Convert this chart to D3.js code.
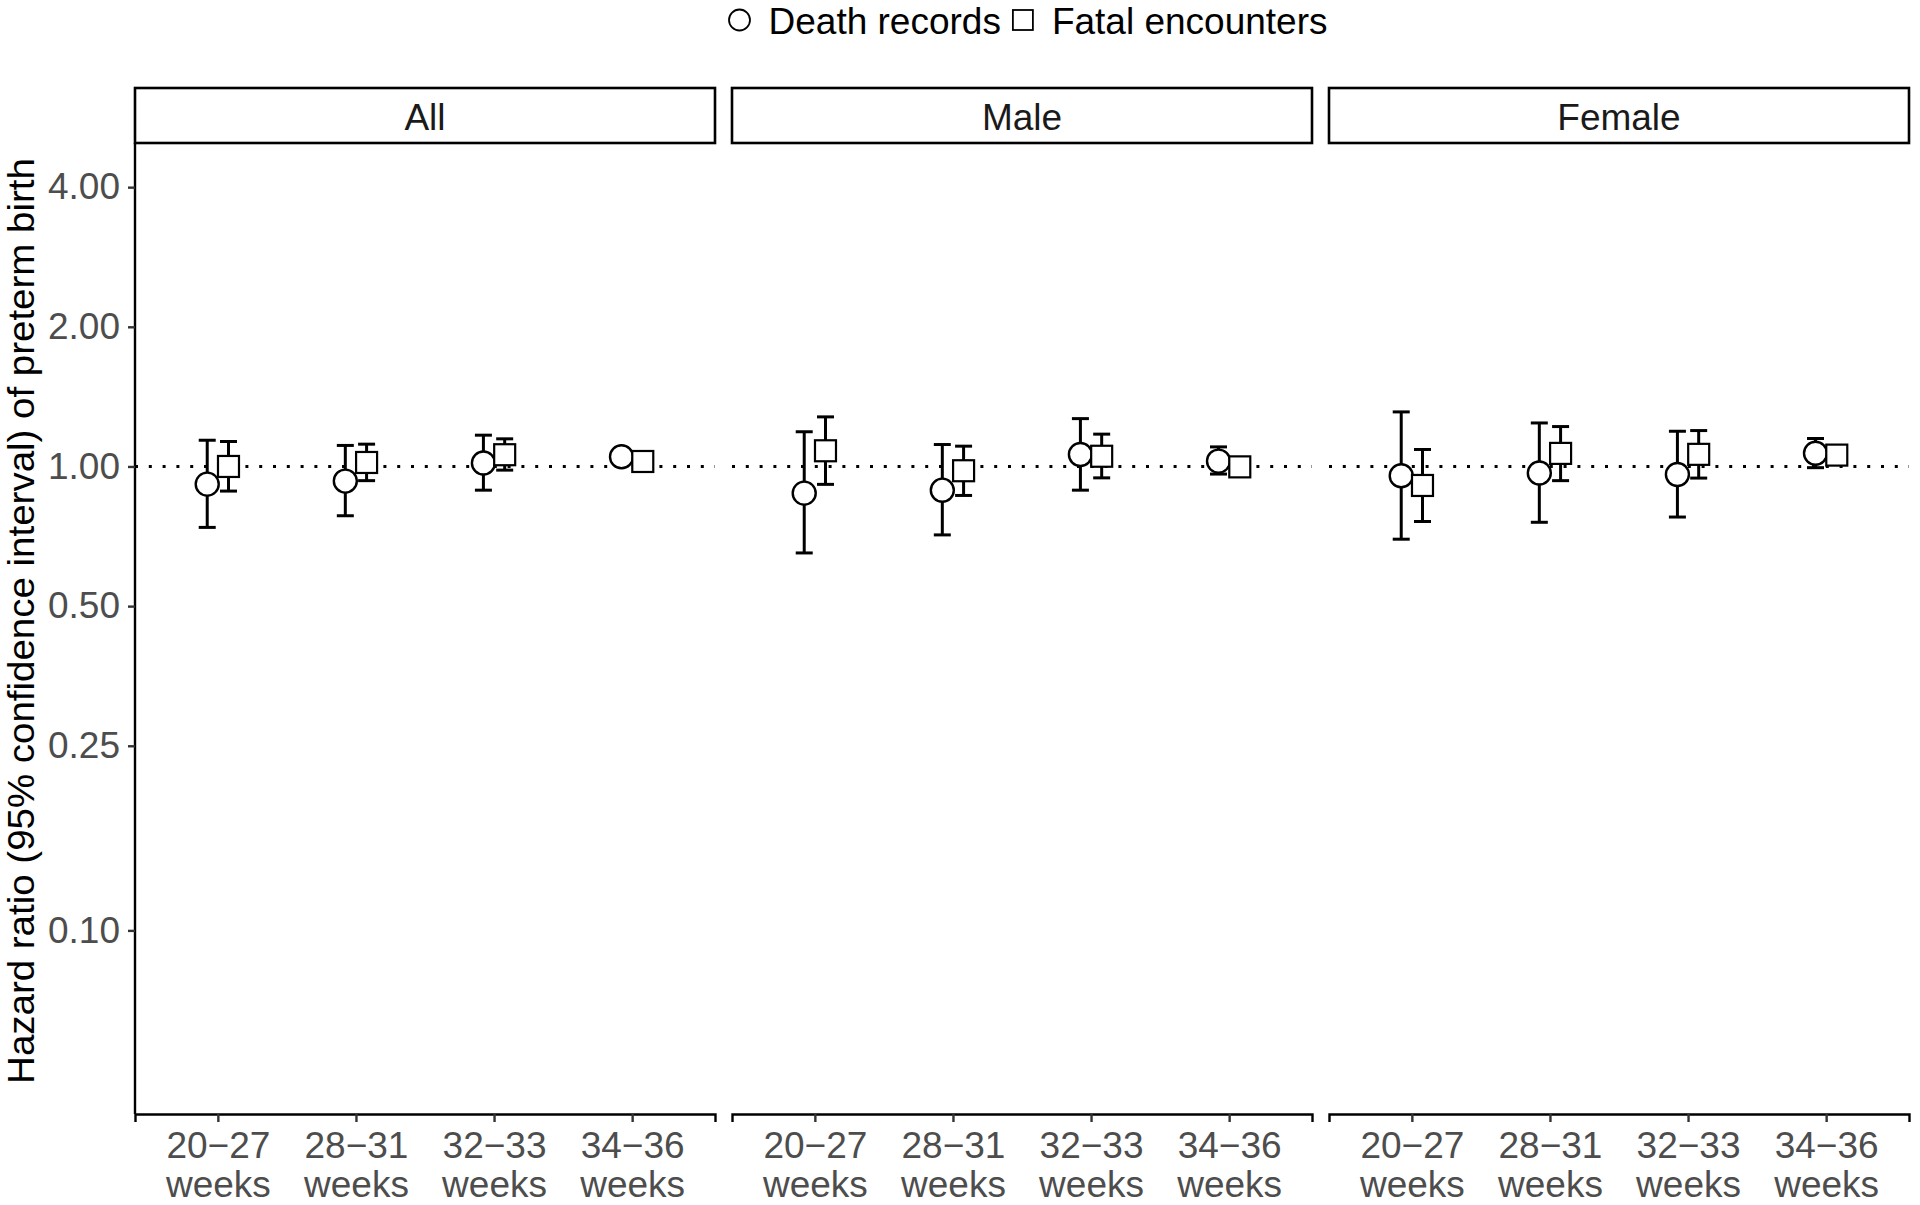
<!DOCTYPE html>
<html>
<head>
<meta charset="utf-8">
<script src="https://cdn.jsdelivr.net/npm/d3@7"></script>
<style>
  body { margin: 0; background: #fff; }
  text { font-family: "Liberation Sans", Arial, sans-serif; }
</style>
</head>
<body>
<div id="chart"></div>
<script>
// facets, categories, y ticks
var panels = ["All", "Male", "Female"];
var categories = ["20\u221227 weeks", "28\u221231 weeks", "32\u221233 weeks", "34\u221236 weeks"];
var yTicks = [0.10, 0.25, 0.50, 1.00, 2.00, 4.00];
var seriesNames = ["Death records", "Fatal encounters"];

// hazard ratios and 95% CI, one row per panel (All, Male, Female)
var deathHR = [[0.916, 0.930, 1.017, 1.049], [0.876, 0.889, 1.061, 1.027], [0.955, 0.968, 0.961, 1.068]];
var deathLo = [[0.739, 0.783, 0.889, 1.020], [0.651, 0.712, 0.889, 0.963], [0.697, 0.758, 0.778, 0.994]];
var deathHi = [[1.139, 1.110, 1.168, 1.080], [1.188, 1.115, 1.268, 1.102], [1.311, 1.241, 1.191, 1.149]];

var fatalHR = [[1.000, 1.020, 1.060, 1.025], [1.081, 0.979, 1.052, 0.998], [0.910, 1.067, 1.062, 1.058]];
var fatalLo = [[0.885, 0.932, 0.982, 0.995], [0.915, 0.866, 0.945, 0.970], [0.761, 0.932, 0.944, 1.020]];
var fatalHi = [[1.132, 1.117, 1.147, 1.055], [1.279, 1.106, 1.174, 1.030], [1.088, 1.219, 1.195, 1.100]];

var svgWidth = 1920;
var svgHeight = 1205;
var fs = 37;

var plotTop = 143, plotBottom = 1114;
var stripTop = 88;

var svg = d3.select("#chart")
  .append("svg")
  .attr("width", svgWidth)
  .attr("height", svgHeight);

// panels side by side
var panelScale = d3.scaleBand()
  .domain(panels)
  .range([135, 1909])
  .paddingInner(17 / 597);
var pw = panelScale.bandwidth();

var x = d3.scalePoint()
  .domain(categories)
  .range([0, pw])
  .padding(0.6);
var dodge = x.step() * 0.077;

var y = d3.scaleLog()
  .domain([0.0402, 4.98])
  .range([plotBottom, plotTop]);

// build rows
var rows = [];
panels.forEach(function(p, pi) {
  categories.forEach(function(c, ci) {
    rows.push({panel: p, cat: c, series: 0, hr: deathHR[pi][ci], lo: deathLo[pi][ci], hi: deathHi[pi][ci]});
    rows.push({panel: p, cat: c, series: 1, hr: fatalHR[pi][ci], lo: fatalLo[pi][ci], hi: fatalHi[pi][ci]});
  });
});

panels.forEach(function(p, pi) {
  var g = svg.append("g").attr("transform", `translate(${panelScale(p)},0)`);

  // strip
  g.append("rect")
    .attr("x", 0).attr("y", stripTop)
    .attr("width", pw).attr("height", plotTop - stripTop)
    .attr("fill", "#fff").attr("stroke", "#000").attr("stroke-width", 2.6);
  g.append("text")
    .attr("x", pw / 2).attr("y", (stripTop + plotTop) / 2 + 1)
    .attr("dy", "0.36em")
    .attr("text-anchor", "middle")
    .attr("font-size", fs)
    .attr("fill", "#1a1a1a")
    .text(p);

  // reference line at 1
  g.append("line")
    .attr("x1", 0).attr("x2", pw)
    .attr("y1", y(1)).attr("y2", y(1))
    .attr("stroke", "#000").attr("stroke-width", 3)
    .attr("stroke-dasharray", "3,10.8");

  // x axis
  var xAxis = g.append("g")
    .attr("transform", `translate(0,${plotBottom})`)
    .call(d3.axisBottom(x).tickSize(8).tickFormat(""));
  xAxis.select(".domain").attr("stroke", "#000").attr("stroke-width", 2.4);
  xAxis.selectAll(".tick line").attr("stroke", "#333").attr("stroke-width", 2.4);
  xAxis.selectAll(".tick").each(function(d) {
    var parts = d.split(" ");
    var t = d3.select(this).append("text")
      .attr("text-anchor", "middle")
      .attr("font-size", fs)
      .attr("fill", "#4d4d4d");
    t.append("tspan").attr("x", 0).attr("y", 44).text(parts[0]);
    t.append("tspan").attr("x", 0).attr("y", 83).text(parts[1]);
  });

  var pr = rows.filter(function(r) { return r.panel === p; });
  var px = function(r) { return x(r.cat) + (r.series === 0 ? -dodge : dodge); };

  // error bars
  var eb = g.append("g").attr("stroke", "#000").attr("stroke-width", 3).attr("fill", "none");
  eb.selectAll(".vbar").data(pr).enter().append("line")
    .attr("x1", px).attr("x2", px)
    .attr("y1", function(r) { return y(r.lo); })
    .attr("y2", function(r) { return y(r.hi); });
  eb.selectAll(".capHi").data(pr).enter().append("line")
    .attr("x1", function(r) { return px(r) - 8.5; })
    .attr("x2", function(r) { return px(r) + 8.5; })
    .attr("y1", function(r) { return y(r.hi); })
    .attr("y2", function(r) { return y(r.hi); });
  eb.selectAll(".capLo").data(pr).enter().append("line")
    .attr("x1", function(r) { return px(r) - 8.5; })
    .attr("x2", function(r) { return px(r) + 8.5; })
    .attr("y1", function(r) { return y(r.lo); })
    .attr("y2", function(r) { return y(r.lo); });

  // points
  g.selectAll(".circ").data(pr.filter(function(r) { return r.series === 0; }))
    .enter().append("circle")
    .attr("cx", px).attr("cy", function(r) { return y(r.hr); })
    .attr("r", 11.5)
    .attr("fill", "#fff").attr("stroke", "#000").attr("stroke-width", 2.4);
  g.selectAll(".sq").data(pr.filter(function(r) { return r.series === 1; }))
    .enter().append("rect")
    .attr("x", function(r) { return px(r) - 10.5; })
    .attr("y", function(r) { return y(r.hr) - 10.5; })
    .attr("width", 21).attr("height", 21)
    .attr("fill", "#fff").attr("stroke", "#000").attr("stroke-width", 2.2);

  // y axis on first panel only
  if (pi === 0) {
    var yAxis = g.append("g")
      .call(d3.axisLeft(y).tickValues(yTicks).tickFormat(d3.format(".2f")).tickSize(7).tickPadding(8));
    yAxis.select(".domain").attr("stroke", "#000").attr("stroke-width", 2.4)
      .attr("d", `M0,${plotTop}V${plotBottom}`);
    yAxis.selectAll(".tick line").attr("stroke", "#333").attr("stroke-width", 2.4);
    yAxis.selectAll(".tick text")
      .attr("font-size", fs)
      .attr("fill", "#4d4d4d")
      .attr("font-family", "Liberation Sans, Arial, sans-serif");
  }
});

// y axis title
svg.append("text")
  .attr("transform", `translate(34,621) rotate(-90) scale(1.04,1)`)
  .attr("text-anchor", "middle")
  .attr("font-size", fs)
  .attr("fill", "#000")
  .text("Hazard ratio (95% confidence interval) of preterm birth");

// legend on top
var legend = svg.append("g");
var lx = 0;
seriesNames.forEach(function(name, i) {
  var item = legend.append("g").attr("transform", `translate(${lx},0)`);
  if (i === 0) {
    item.append("circle").attr("cx", 11).attr("cy", 20).attr("r", 10.5)
      .attr("fill", "#fff").attr("stroke", "#000").attr("stroke-width", 1.8);
  } else {
    item.append("rect").attr("x", 1).attr("y", 10).attr("width", 20).attr("height", 20)
      .attr("fill", "#fff").attr("stroke", "#000").attr("stroke-width", 1.8);
  }
  var t = item.append("text")
    .attr("x", 40).attr("y", 21).attr("dy", "0.36em")
    .attr("font-size", fs).attr("fill", "#000")
    .text(name);
  lx += 40 + t.node().getComputedTextLength() + 11;
});
var lw = lx - 11;
legend.attr("transform", `translate(${1028 - lw / 2},0)`);
</script>
</body>
</html>
